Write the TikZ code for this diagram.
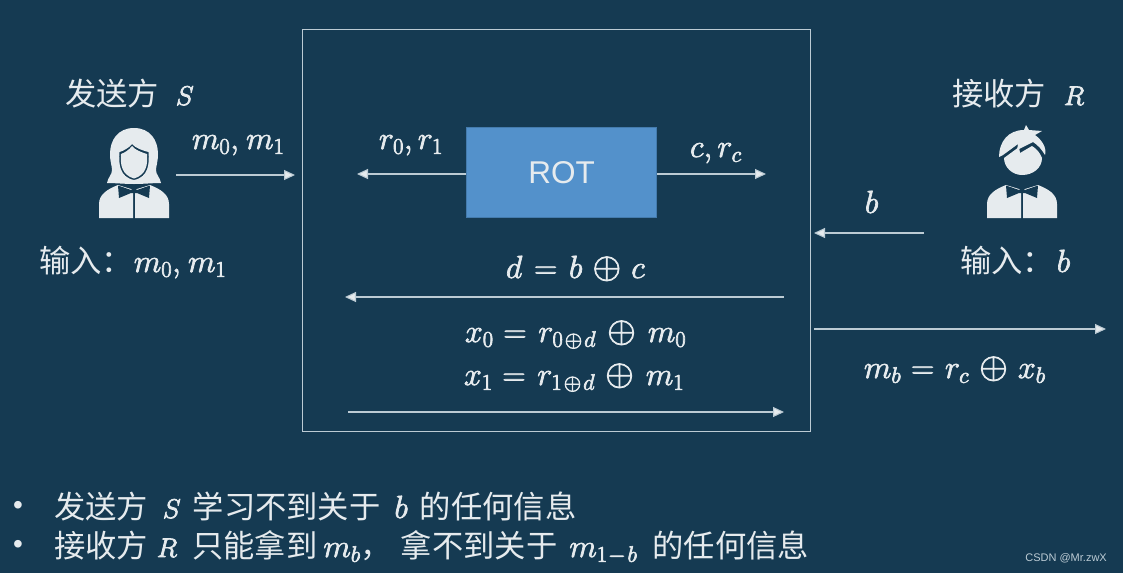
\documentclass[tikz,border=0pt]{standalone}
\usepackage{fix-cm}
\usepackage{fontspec}
\usepackage{amsmath}
\setmainfont{Noto Sans CJK SC}
\newfontfamily\latinf{Liberation Sans}
\usetikzlibrary{arrows.meta}
\definecolor{bgc}{HTML}{153A52}
\definecolor{fgc}{HTML}{E6EBEE}
\definecolor{linec}{HTML}{BCCBD4}
\definecolor{rotc}{HTML}{5391CB}
\newcommand{\mth}[1]{{\fontsize{32}{36}\selectfont\special{pdf:code 2 Tr 0.7 w}$#1$\special{pdf:code 0 Tr}}}
\newcommand{\mthc}[1]{{\fontsize{27}{36}\selectfont\special{pdf:code 2 Tr 0.7 w}$#1$\special{pdf:code 0 Tr}}}
\newcommand{\bop}{\mathbin{\scalebox{1.15}{$\oplus$}}}
\tikzset{
  lbl/.style={text=fgc,font=\fontsize{31.3}{36}\selectfont,inner sep=0pt,outer sep=0pt,anchor=base west},
  arr/.style={draw=linec,line width=1.1pt,-{Triangle[length=11pt,width=10pt,fill=fgc]}},
  frame/.style={draw=linec,line width=1.2pt},
  icon/.style={fill=fgc,draw=none}
}
\begin{document}
\begin{tikzpicture}[x=1pt,y=-1pt]
\path[use as bounding box,fill=bgc] (0,0) rectangle (1123,573);
% protocol frame
\node[frame,minimum width=508pt,minimum height=402pt,inner sep=0pt,anchor=north west] (box) at (302,29) {};
\node[fill=rotc,draw=rotc!75!bgc,line width=1.2pt,minimum width=190pt,minimum height=90pt,inner sep=0pt,text=fgc,anchor=north west,font=\latinf\fontsize{31.5}{34}\selectfont] (rot) at (466,127) {ROT};
% sender icon
\begin{scope}[shift={(134,172)}]
\path[icon,even odd rule] (0,-44) .. controls (-16,-44) and (-24,-32) .. (-24,-18)
  .. controls (-24,-10) and (-22,-6) .. (-22,-2) .. controls (-22,3) and (-26,5) .. (-27,11)
  .. controls (-18,11) and (-10,12) .. (0,12) .. controls (10,12) and (18,11) .. (27,11)
  .. controls (26,5) and (22,3) .. (22,-2) .. controls (22,-6) and (24,-10) .. (24,-18)
  .. controls (24,-32) and (16,-44) .. (0,-44) -- cycle
  (-2,-28) .. controls (-5,-24) and (-11,-21) .. (-14.5,-20) .. controls (-15.5,-8) and (-14.5,5) .. (0,8)
  .. controls (14.5,5) and (15.5,-8) .. (14.5,-20) .. controls (10,-21) and (1,-24) .. (-2,-28) -- cycle;
\path[icon] (-2,-26) .. controls (-5,-22) and (-9,-19.5) .. (-13,-18) .. controls (-14,-7) and (-12,3) .. (0,6.5)
  .. controls (12,3) and (14,-7) .. (13,-18) .. controls (8,-19.5) and (1,-22) .. (-2,-26) -- cycle;
\path[icon] (-16,13) -- (-3,17) -- (-1,19.5) -- (-1,46) -- (-35,46) -- (-35,32) .. controls (-35,22) and (-26,17) .. (-16,13) -- cycle;
\path[icon] (16,13) -- (3,17) -- (1,19.5) -- (1,46) -- (35,46) -- (35,32) .. controls (35,22) and (26,17) .. (16,13) -- cycle;
\path[fill=bgc] (-16,13.5) -- (-3,18) -- (3,18) -- (16,13.5) -- (15,26) -- (3,21) -- (-3,21) -- (-15,26) -- cycle;
\end{scope}
% receiver icon
\begin{scope}[shift={(1022,172)}]
\path[icon] (-23,-15) .. controls (-23,-30) and (-14,-42) .. (2,-42)
  -- (4,-47) -- (7,-42) -- (20,-41) -- (13,-37) .. controls (20,-32) and (25,-24) .. (23,-17)
  .. controls (20,-22) and (16,-27) .. (11,-30) -- (-5,-22) -- (-4,-28) -- (-19,-17) -- cycle;
\path[icon] (-18,-14) -- (-3,-25) -- (-2,-19) -- (10,-26) .. controls (15,-23) and (18,-19) .. (20,-14)
  .. controls (20,-4) and (11,3) .. (0,3) .. controls (-10,3) and (-18,-5) .. (-18,-14) -- cycle;
\path[icon] (-16,13) -- (-3,17) -- (-1,19.5) -- (-1,46) -- (-35,46) -- (-35,32) .. controls (-35,22) and (-26,17) .. (-16,13) -- cycle;
\path[icon] (16,13) -- (3,17) -- (1,19.5) -- (1,46) -- (35,46) -- (35,32) .. controls (35,22) and (26,17) .. (16,13) -- cycle;
\path[fill=bgc] (-16,13.5) -- (-3,18) -- (3,18) -- (16,13.5) -- (15,26) -- (3,21) -- (-3,21) -- (-15,26) -- cycle;
\end{scope}
% labels
\node[lbl] (sname) at (65,105) {发送方\hspace{17pt}\mthc{S}};
\node[lbl] (rname) at (952,105) {接收方\hspace{18pt}\mthc{R}};
\node[lbl] (sin) at (39,272) {输入：\hspace{1pt}\mth{m_0,\hspace{2pt}m_1}};
\node[lbl] (rin) at (960,272) {输入：\hspace{3pt}\mth{b}};
\node[lbl] (lm) at (192,149) {\mth{m_0,\hspace{2pt}m_1}};
\node[lbl] (lr) at (379,149) {\mth{r_0,r_1}};
\node[lbl] (lc) at (690,157) {\mth{c,r_c}};
\node[lbl] (lb) at (865,213) {\mth{b}};
\node[lbl] (ld) at (506,278) {\mth{d\hspace{3pt}=\hspace{3pt}b\hspace{3pt}\bop\hspace{3pt}c}};
\node[lbl] (lx0) at (465,342) {\mth{x_0\hspace{1pt}=\hspace{3pt}r_{0\hspace{2pt}\oplus\hspace{2pt}d}\hspace{4pt}\bop\hspace{5pt}m_0}};
\node[lbl] (lx1) at (464,385) {\mth{x_1\hspace{1pt}=\hspace{3pt}r_{1\hspace{2pt}\oplus\hspace{2pt}d}\hspace{3pt}\bop\hspace{5pt}m_1}};
\node[lbl] (lmb) at (864,378) {\mth{m_b\hspace{1pt}=\hspace{2pt}r_c\hspace{3pt}\bop\hspace{3pt}x_b}};
\node[lbl,anchor=center,font=\latinf\fontsize{28}{30}\selectfont] (d1) at (18,508) {•};
\node[lbl,anchor=center,font=\latinf\fontsize{28}{30}\selectfont] (d2) at (18,547) {•};
\node[lbl] (t1) at (54,518) {发送方\hspace{15pt}\mthc{S}\hspace{12pt}学习不到关于\hspace{14pt}\mth{b}\hspace{12pt}的任何信息};
\node[lbl] (t2) at (54,557) {接收方\hspace{9pt}\mthc{R}\hspace{15pt}只能拿到\hspace{6pt}\mth{m_b}，\hspace{9pt}拿不到关于\hspace{12pt}\mth{m_{1\hspace{1pt}-\hspace{2pt}b}}\hspace{15pt}的任何信息};
\node[anchor=east,text=linec,inner sep=0pt,font=\latinf\fontsize{11}{12}\selectfont] (wm) at (1107,558) {CSDN @Mr.zwX};
% free ends of connectors
\coordinate (a1) at (176,175); \coordinate (a2) at (295,175);
\coordinate (b2) at (357,174); \coordinate (c2) at (766,174);
\coordinate (e1) at (924,233); \coordinate (e2) at (814,233);
\coordinate (f1) at (784,297); \coordinate (f2) at (345,297);
\coordinate (g1) at (348,412); \coordinate (g2) at (784,412);
\coordinate (h1) at (814,329); \coordinate (h2) at (1106,329);
\draw[arr] (a1) -- (a2);
\draw[arr] (rot.west |- b2) -- (b2);
\draw[arr] (rot.east |- c2) -- (c2);
\draw[arr] (e1) -- (e2);
\draw[arr] (f1) -- (f2);
\draw[arr] (g1) -- (g2);
\draw[arr] (h1) -- (h2);
\end{tikzpicture}
\end{document}
